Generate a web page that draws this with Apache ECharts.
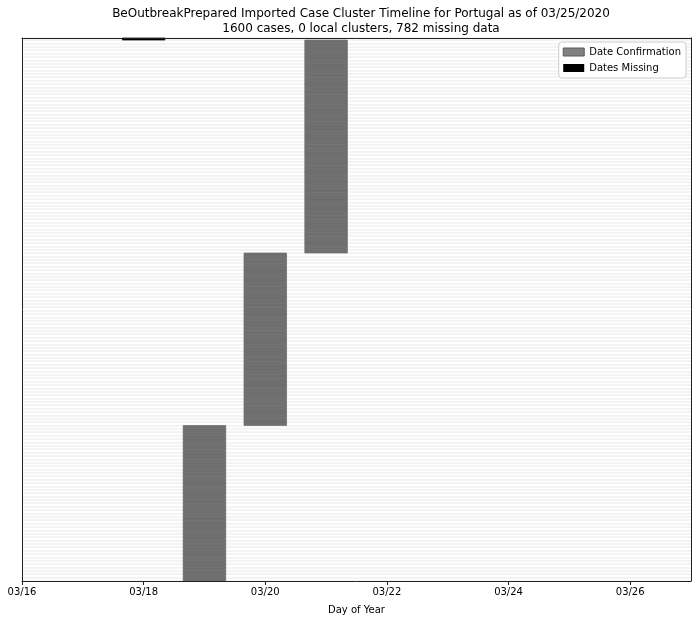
<!DOCTYPE html>
<html><head><meta charset="utf-8">
<script src="https://cdn.jsdelivr.net/npm/echarts@6/dist/echarts.min.js"></script>
<style>html,body{margin:0;padding:0;background:#fff}#c{width:698px;height:620px}</style>
</head><body><div id="c"></div>
<script>
const titleText = 'BeOutbreakPrepared Imported Case Cluster Timeline for Portugal as of 03/25/2020';
const subtitleText = '1600 cases, 0 local clusters, 782 missing data';
const xTickLabels = ['03/16', '03/18', '03/20', '03/22', '03/24', '03/26'];
const xAxisName = 'Day of Year';
// confirmation-date groups (rows stacked from the bottom)
const confirmDates = ['03/19', '03/20', '03/21'];
const confirmCounts = [46, 51, 63];
// cases with missing dates
const missingDates = ['03/18'];
const missingCounts = [1];

const HALF = 0.35;
function dayOffset(s) {
  const [m, d] = s.split('/').map(Number);
  return Math.round((Date.UTC(2020, m - 1, d) - Date.UTC(2020, 2, 16)) / 86400000);
}
const tickValues = xTickLabels.map(dayOffset);
const confirmRows = [];
let row = 0;
confirmDates.forEach((d, i) => {
  const c = dayOffset(d);
  for (let k = 0; k < confirmCounts[i]; k++) { confirmRows.push([c - HALF, c + HALF, row]); row++; }
});
const missingRows = [];
missingDates.forEach((d, i) => {
  const c = dayOffset(d);
  for (let k = 0; k < missingCounts[i]; k++) { missingRows.push([c - HALF, c + HALF, row]); row++; }
});
const totalRows = row;

function renderRect(params, api) {
  const x0 = api.value(0), x1 = api.value(1), r = api.value(2);
  const p0 = api.coord([x0, r + 1]);
  const p1 = api.coord([x1, r]);
  const cs = params.coordSys;
  const rect = echarts.graphic.clipRectByRect(
    { x: p0[0], y: p0[1], width: p1[0] - p0[0], height: p1[1] - p0[1] },
    { x: cs.x, y: cs.y, width: cs.width, height: cs.height });
  const st = api.style();
  st.stroke = st.fill; st.lineWidth = 0.7;
  return rect && { type: 'rect', shape: rect, style: st };
}

const FONT = 'DejaVu Sans';
const chart = echarts.init(document.getElementById('c'), null, { renderer: 'canvas' });
chart.setOption({
  animation: false,
  backgroundColor: '#fff',
  textStyle: { fontFamily: FONT },
  title: {
    text: titleText + '\n' + subtitleText,
    left: 356, top: 1, textAlign: 'center',
    textStyle: { fontFamily: FONT, fontSize: 12, fontWeight: 'normal', color: '#000', lineHeight: 15 }
  },
  legend: {
    orient: 'vertical', right: 12, top: 42, z: 10,
    itemWidth: 21, itemHeight: 8, itemGap: 6,
    backgroundColor: '#fff', borderColor: '#cccccc', borderWidth: 1, borderRadius: 3,
    padding: [5, 5, 5, 4],
    textStyle: { fontFamily: FONT, fontSize: 10, color: '#000' },
    data: [
      { name: 'Date Confirmation', icon: 'rect', itemStyle: { color: '#808080', borderColor: '#5a5a5a', borderWidth: 1 } },
      { name: 'Dates Missing', icon: 'rect', itemStyle: { color: '#000' } }
    ]
  },
  grid: { left: 22, right: 7, top: 38, bottom: 38 },
  xAxis: [{
    type: 'value', min: 0, max: 11, interval: 2,
    axisLine: { show: true, lineStyle: { color: '#222', width: 1 } },
    axisTick: { show: true, inside: false, length: 4, lineStyle: { color: '#222' }, customValues: tickValues },
    axisLabel: { fontFamily: FONT, fontSize: 10, color: '#000', margin: 6, customValues: tickValues,
      formatter: v => xTickLabels[tickValues.indexOf(v)] || '' },
    splitLine: { show: false },
    name: xAxisName, nameLocation: 'middle', nameGap: 24,
    nameTextStyle: { fontFamily: FONT, fontSize: 10, color: '#000' },
    z: 5
  }, {
    type: 'value', position: 'top', min: 0, max: 11,
    axisLine: { show: true, onZero: false, lineStyle: { color: '#222', width: 1 } },
    axisTick: { show: false }, axisLabel: { show: false }, splitLine: { show: false }, z: 5
  }],
  yAxis: [{
    type: 'value', min: 0, max: totalRows - 0.4, interval: 1,
    axisLine: { show: true, onZero: false, lineStyle: { color: '#222', width: 1 } },
    axisTick: { show: false }, axisLabel: { show: false },
    splitLine: { show: true, lineStyle: { color: '#f0f0f0', width: 1.6 } },
    z: 0
  }, {
    type: 'value', position: 'right', min: 0, max: totalRows - 0.4,
    axisLine: { show: true, onZero: false, lineStyle: { color: '#222', width: 1 } },
    axisTick: { show: false }, axisLabel: { show: false }, splitLine: { show: false }, z: 5
  }],
  series: [{
    name: 'Date Confirmation', type: 'custom', renderItem: renderRect,
    xAxisIndex: 0, yAxisIndex: 0,
    encode: { x: [0, 1], y: 2 },
    itemStyle: { color: '#6f6f6f' },
    data: confirmRows, z: 2
  }, {
    name: 'Dates Missing', type: 'custom', renderItem: renderRect,
    xAxisIndex: 0, yAxisIndex: 0,
    encode: { x: [0, 1], y: 2 },
    itemStyle: { color: '#000' },
    data: missingRows, z: 2
  }]
});
</script>
</body></html>
